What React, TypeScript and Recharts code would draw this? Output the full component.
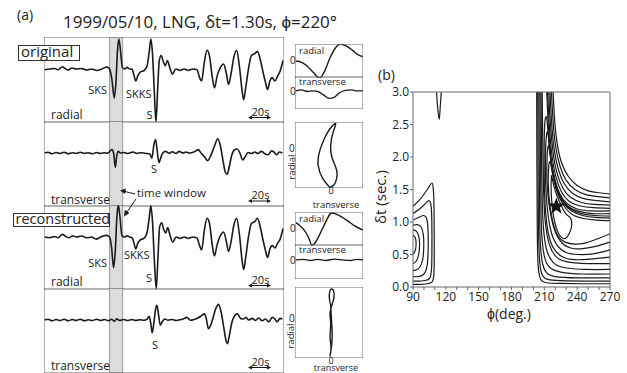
import React from 'react';
import { LineChart, Line, XAxis, YAxis, ReferenceArea, ReferenceDot } from 'recharts';

const FONT = "'Open Sans', sans-serif";
const INK = '#1a1a1a';
const FRAME = '#666';

// ---- seismograms: [time (s), amplitude] ----
const origRadial = [
  [0.7, 52], [5.7, 52.7], [10.7, 53.3], [14, 52], [18.3, 55], [20.7, 53.3], [24, 51.7], [27.3, 53.7],
  [32.3, 52.7], [37.3, 53.3], [42.3, 51.7], [47.3, 52.7], [52.3, 51.3], [57.3, 52.7], [62.3, 54.7],
  [65, 52.7], [67.3, 42.7], [69.7, 24.3], [71.3, 39.3], [73, 72.7], [74.3, 82], [76, 69.3], [77.7, 54.3],
  [80, 52.7], [82.3, 54.3], [85, 52.7], [87.3, 52.7], [89, 47.7], [91, 41], [93, 46], [95.7, 50], [99, 51],
  [102.3, 56], [104.3, 69.3], [106, 82], [107.7, 66], [109.3, 32.7], [111, 1], [112.7, 32.7], [114.3, 61],
  [116.3, 66], [118.3, 60], [120.3, 56], [122.3, 61], [124.7, 54.3], [127.3, 47.7], [130.7, 52.7],
  [135, 51.3], [139, 52.7], [143, 51.3], [147.3, 52.7], [151.7, 52], [154.3, 44.3], [156.3, 41],
  [159, 59.3], [161.7, 71], [164, 66], [166.7, 46], [169, 34.3], [171.7, 46], [175, 54.3], [178, 57.7],
  [181, 47.7], [183, 37.7], [185.7, 49.3], [188.3, 64.3], [191, 71], [193.7, 56], [196.3, 32.7],
  [198, 22.7], [200, 34.3], [203, 54.3], [205.7, 66], [209, 67.7], [211.7, 70], [214.3, 62.7],
  [217.3, 49.3], [219.7, 39.3], [221.7, 32.7], [224, 41], [226.3, 44.3], [229, 41], [231.7, 46],
  [234.3, 51], [237, 61],
];

const origTrans = [
  [0.5, 52.7], [4, 53.5], [8, 52], [12, 53.3], [16, 52.3], [20, 53.5], [24, 52], [28, 53], [32, 52.3],
  [36, 53.5], [40, 52.3], [44, 53], [48, 52], [52, 53.3], [56, 52.3], [60, 53], [63, 52.5], [67.3, 56],
  [69, 52.7], [70.7, 38.7], [72, 49.3], [73.7, 54.3], [75.7, 52.7], [79, 53.3], [83, 52.3], [88.3, 53.7],
  [92, 52.3], [96, 53], [100, 52.5], [105, 51.7], [107, 47.7], [109, 61], [110.7, 66], [112.3, 54.3],
  [114, 43.3], [115.7, 47.7], [117.7, 52.7], [120.7, 54.3], [124, 52.5], [127.3, 54], [131, 52.3],
  [134, 54.3], [138, 52.7], [140.7, 53.7], [144, 52.7], [149.7, 54.3], [153, 56], [155.7, 52.7],
  [159, 49.3], [162.3, 45.3], [165.7, 51], [169, 59.3], [172.3, 66.7], [175, 59.3], [177.7, 44.3],
  [179.7, 34.3], [181.7, 32], [183.7, 39.3], [186.3, 51], [189, 56], [191.7, 56.7], [194.3, 52.7],
  [197, 46], [199.7, 49.3], [202.3, 53.3], [206, 52.3], [209, 53.7], [212, 52.3], [215.7, 54.3],
  [219, 52], [222.3, 51], [225.7, 55], [228.3, 53.3], [230.7, 51], [233.3, 53.7], [236.3, 52.7],
];

const recRadial = [
  [0.7, 51.7], [5.7, 51], [10.7, 52.3], [14, 51], [18.3, 54.3], [21.7, 52.3], [25, 51], [28.3, 53],
  [32.3, 51.7], [37.3, 52.7], [42.3, 51], [47.3, 51.7], [51.7, 49.7], [56.3, 51.7], [61.7, 53.3],
  [65, 51.7], [67, 41.7], [69, 21.7], [70.7, 38.3], [72.3, 71.7], [73.7, 83], [75.3, 71.7], [77.3, 53.3],
  [80, 51.7], [82.3, 53], [85, 51.7], [87.3, 51], [89, 46.7], [91, 40], [93, 45.7], [95.7, 49], [99, 50.3],
  [102.3, 56.7], [104.3, 70], [106, 82.3], [107.7, 65], [109.3, 31.7], [111.3, 1], [113, 31.7],
  [114.7, 61.7], [116.7, 65.7], [118.7, 59], [120.7, 55.7], [122.7, 61], [125, 53.3], [127.7, 46.7],
  [131, 51.7], [135, 50.3], [139, 51.7], [143, 50.3], [147.3, 51.7], [151.7, 50.7], [154.3, 43.3],
  [156.3, 39], [159, 58.3], [161.7, 70], [164, 65.7], [166.7, 45], [169, 33.3], [171.7, 44.3],
  [175, 53.3], [178, 56.7], [181, 46.7], [183, 37.7], [185.7, 48.3], [188.3, 63.3], [191, 70],
  [193.7, 55], [196.3, 30], [198, 20], [200, 31.7], [203, 53.3], [205.7, 65], [209, 66.7], [211.7, 70],
  [214.3, 62.3], [217.3, 48.3], [219.7, 38.3], [221.7, 31.7], [224, 40], [226.3, 43.3], [229, 41],
  [231.7, 45.7], [234.3, 50], [237, 60],
];

const recTrans = [
  [0.5, 51.7], [4, 52.5], [8, 51], [12, 52.3], [16, 51.2], [20, 52.5], [24, 51], [28, 52.3], [32, 51.3],
  [36, 52.5], [40, 51], [44, 52], [48, 51.2], [52, 52.5], [56, 51.3], [60, 52.3], [64, 51], [67, 52.5],
  [70, 50.5], [72, 53], [75, 51.3], [79, 52.3], [83, 51.2], [87, 52.3], [91, 51.3], [95, 52], [99, 51.5],
  [102.3, 52.7], [104.3, 55.3], [106, 47.7], [107.3, 39.3], [109, 49.3], [110.7, 62.7], [112, 66],
  [113.7, 56], [115.3, 46.7], [117.3, 50], [119.7, 52.7], [123, 51.5], [127, 52.3], [131, 51.3],
  [135, 52], [139, 53.3], [141.7, 54.3], [145, 51.5], [149, 52.3], [153, 54], [156.3, 56], [159, 57.7],
  [161, 52.7], [163, 43.3], [165, 46], [167.7, 54.3], [170.3, 62.7], [173, 67], [175.7, 59.3],
  [178.3, 44.3], [180.3, 32.7], [182, 28.7], [184, 37.7], [186.3, 49.3], [189, 56], [191.7, 57.7],
  [195, 53.3], [197.7, 52.7], [200.3, 54.3], [203, 51.7], [206.3, 53.3], [209.7, 51.3], [213, 53.7],
  [216.3, 51], [219.7, 52.7], [223, 50], [226.3, 54.3], [229, 52.7], [231.3, 50], [234, 53.3],
  [236.3, 52.7],
];

const timeWindow = [65, 78];
const traceTicks = [0, 11, 22, 33, 44, 55, 66, 77, 88, 99, 110, 121, 132, 143, 154, 165, 176, 187, 198, 209, 220, 231];

// ---- windowed waveforms (small boxes) ----
const winRadialOrig = [[1, 0], [6, -1], [12, -5], [18, -11], [24, -16], [29, -9], [34, 3], [39, 12], [44, 16], [50, 14], [56, 10], [61, 6], [66, 4]];
const winTransOrig = [[1, 0], [6, 1], [12, -0.5], [18, 0], [23, -1], [28, -4], [33, -7], [38, -6], [43, -2], [49, 0.5], [55, 1], [60, 0], [66, 0]];
const winRadialRec = [[1, 5], [6, 1], [11, -5], [14, -11], [16, -16], [18, -15.5], [22, -10], [26, -2], [30, 6], [34, 13], [36, 14], [40, 13], [46, 10], [52, 6], [58, 2], [66, -2]];
const winTransRec = [[1, 0], [8, 0.5], [15, -0.5], [22, 0.5], [30, -0.5], [38, 0.7], [46, 0], [54, -0.5], [60, 0.5], [66, 0]];

// ---- particle motion: [transverse, radial] ----
const hodoOrig = [
  [-1, -38.7], [-8, -30], [-12.5, -17], [-11, -3], [-6, 10], [-1, 18.5], [4.5, 23.7], [2, 15],
  [-0.3, 3], [0.7, -8.7], [4.5, -18.7], [5.8, -27], [3.5, -35], [-1, -38.7],
];
const hodoRec = [
  [-1, 14.7], [-1.7, 23], [0.7, 28], [3, 23], [1.7, 15.3], [-1, 4.7], [-0.3, -5.3], [-1, -18.7], [0, -28.7],
  [-1, -37], [0.7, -25.3], [1, -12], [0.3, -0.3], [-0.3, 11.3], [-1, 14.7],
];

// ---- grid search (b): contour lines [phi (deg), dt (s)] ----
const phiTicks = [90, 100, 110, 120, 130, 140, 150, 160, 170, 180, 190, 200, 210, 220, 230, 240, 250, 260, 270];
const dtTicks = [0, 0.5, 1, 1.5, 2, 2.5, 3];
const best = { phi: 221, dt: 1.24 };

const leftC1 = [[90, 1.24], [96, 1.34], [101, 1.45], [105, 1.55], [107.3, 1.6], [108.6, 1.5], [109.2, 1.2], [109.4, 0.8], [109.4, 0.4], [109, 0.18], [107.5, 0.08], [103, 0.05], [96, 0.04], [90, 0.04]];
const leftC2 = [[90, 1.13], [96, 1.2], [101, 1.28], [104.5, 1.33], [106.5, 1.25], [107.2, 1], [107.3, 0.6], [107, 0.3], [105.5, 0.14], [101, 0.1], [95, 0.09], [90, 0.09]];
const leftC3 = [[90, 1.03], [95, 1.07], [99.5, 1.1], [102.5, 1.05], [103.8, 0.85], [103.8, 0.55], [102.8, 0.32], [100, 0.2], [95, 0.16], [90, 0.16]];
const leftC4 = [[90, 0.95], [94, 0.96], [97.5, 0.92], [99.5, 0.8], [99.8, 0.6], [98.8, 0.42], [96, 0.3], [92.5, 0.26], [90, 0.25]];
const leftC5 = [[90, 0.88], [93, 0.86], [95.3, 0.78], [96, 0.65], [95.2, 0.5], [93, 0.4], [90, 0.36]];
const leftC6 = [[90, 0.8], [92, 0.76], [92.8, 0.68], [92.3, 0.58], [90.8, 0.52], [90, 0.5]];
const spikeC = [[111.5, 3], [112.6, 2.75], [113.9, 2.58], [114.8, 2.75], [115.8, 3]];

const rightLow0 = [[203, 3], [203.2, 2], [203.5, 1], [204, 0.45], [205, 0.22], [207, 0.11], [212, 0.065], [225, 0.055], [245, 0.05], [270, 0.05]];
const rightUp0 = [[218, 3], [219.5, 2.55], [222, 2.18], [226, 1.9], [232, 1.7], [240, 1.56], [250, 1.48], [260, 1.45], [270, 1.43]];
const rightLow1 = [[204, 3], [204.2, 2], [204.6, 1], [205.3, 0.52], [206.5, 0.28], [209, 0.16], [215, 0.11], [230, 0.095], [250, 0.09], [270, 0.09]];
const rightUp1 = [[216.5, 3], [218, 2.55], [220.5, 2.15], [224.5, 1.85], [230, 1.64], [238, 1.5], [248, 1.42], [259, 1.39], [270, 1.37]];
const rightLow2 = [[205, 3], [205.3, 2], [205.8, 1], [206.7, 0.58], [208.5, 0.35], [212, 0.22], [220, 0.16], [240, 0.14], [270, 0.14]];
const rightUp2 = [[215.2, 3], [216.6, 2.55], [219, 2.12], [223, 1.8], [228.5, 1.58], [236, 1.44], [246, 1.36], [258, 1.33], [270, 1.31]];
const rightLow3 = [[206, 3], [206.4, 2], [207, 1.1], [208.2, 0.68], [210.5, 0.44], [215, 0.3], [225, 0.23], [245, 0.2], [270, 0.2]];
const rightUp3 = [[214, 3], [215.4, 2.55], [217.8, 2.1], [221.5, 1.76], [227, 1.52], [234, 1.38], [244, 1.3], [256, 1.27], [270, 1.26]];
const rightLow4 = [[207, 3], [207.5, 2], [208.3, 1.2], [209.8, 0.8], [212.5, 0.55], [218, 0.38], [228, 0.3], [248, 0.27], [270, 0.27]];
const rightUp4 = [[213, 3], [214.3, 2.55], [216.6, 2.08], [220.2, 1.72], [225.5, 1.47], [232.5, 1.32], [242, 1.25], [255, 1.22], [270, 1.21]];
const rightLow5 = [[208, 3], [208.6, 2.2], [209.5, 1.4], [211.2, 0.95], [214.5, 0.66], [220, 0.48], [230, 0.39], [250, 0.36], [270, 0.36]];
const rightUp5 = [[212.2, 3], [213.3, 2.6], [215.5, 2.08], [219, 1.69], [224, 1.43], [231, 1.28], [240, 1.2], [253, 1.17], [270, 1.17]];
const rightC6 = [[270, 0.46], [252, 0.43], [238, 0.42], [226, 0.47], [218, 0.61], [213.5, 0.84], [211, 1.2], [210, 1.6], [209.8, 2], [210, 2.35], [210.6, 2.56], [211.5, 2.62], [212.5, 2.55], [214, 2.25], [216.5, 1.9], [220, 1.62], [225, 1.4], [231, 1.25], [240, 1.17], [254, 1.13], [270, 1.13]];
const rightC7 = [[270, 0.57], [255, 0.51], [241, 0.5], [230, 0.53], [221, 0.66], [215.5, 0.9], [212.5, 1.25], [211.2, 1.6], [211, 1.95], [211.4, 2.22], [212.2, 2.36], [213, 2.38], [214, 2.3], [215.5, 2.05], [218, 1.75], [222, 1.5], [227, 1.32], [234, 1.2], [244, 1.13], [257, 1.1], [270, 1.09]];
const rightC8 = [[270, 0.69], [258, 0.63], [245, 0.59], [234, 0.6], [225, 0.7], [218.5, 0.92], [214.5, 1.25], [212.6, 1.55], [212.3, 1.85], [212.8, 2.08], [213.6, 2.17], [214.6, 2.12], [216.2, 1.92], [219, 1.65], [223, 1.43], [228, 1.28], [235, 1.17], [245, 1.1], [257, 1.07], [270, 1.06]];
const rightC9 = [[270, 0.82], [260, 0.75], [248, 0.68], [238, 0.66], [229, 0.69], [222, 0.8], [217.5, 1.02], [214.8, 1.3], [213.6, 1.58], [213.8, 1.8], [214.6, 1.92], [215.8, 1.9], [217.5, 1.74], [220.5, 1.52], [224.5, 1.35], [230, 1.2], [237, 1.1], [247, 1.05], [258, 1.03], [270, 1.02]];
const rightC10 = [[216.5, 1.72], [216.2, 1.5], [217.3, 1.22], [219.5, 1], [222.5, 0.84], [226, 0.76], [229.5, 0.75], [233, 0.83], [235, 0.95], [234, 1.06], [230, 1.12], [225, 1.27], [220.5, 1.45], [217.8, 1.62], [216.5, 1.72]];

const contours = [
  leftC1, leftC2, leftC3, leftC4, leftC5, leftC6, spikeC,
  rightLow0, rightUp0, rightLow1, rightUp1, rightLow2, rightUp2, rightLow3, rightUp3,
  rightLow4, rightUp4, rightLow5, rightUp5, rightC6, rightC7, rightC8, rightC9, rightC10,
];

const toXY = (arr: number[][]) => arr.map(([x, y]) => ({ x, y }));

type PanelProps = {
  left: number; top: number; width: number; height: number;
  xDomain: number[]; yDomain: number[]; xTicks: number[]; yTicks: number[];
  children?: React.ReactNode;
};

// boxed panel with inward tick marks on all four sides (each frame axis is 1px thick)
function Panel({ left, top, width, height, xDomain, yDomain, xTicks, yTicks, children }: PanelProps) {
  const ax = { stroke: FRAME, tick: false as const, tickSize: 3, mirror: true, allowDataOverflow: true, type: 'number' as const };
  return (
    <div style={{ position: 'absolute', left: left - 1, top: top - 1 }}>
      <LineChart width={width + 2} height={height + 2} margin={{ top: 0, right: 0, bottom: 0, left: 0 }}>
        <XAxis {...ax} dataKey="x" domain={xDomain} ticks={xTicks} height={1} />
        <XAxis {...ax} xAxisId="top" orientation="top" dataKey="x" domain={xDomain} ticks={xTicks} height={1} />
        <YAxis {...ax} domain={yDomain} ticks={yTicks} width={1} />
        <YAxis {...ax} yAxisId="r" orientation="right" domain={yDomain} ticks={yTicks} width={1} />
        {children}
      </LineChart>
    </div>
  );
}

function Trace({ data, top, height }: { data: number[][]; top: number; height: number }) {
  return (
    <Panel left={45} top={top} width={238} height={height} xDomain={[0, 238]} yDomain={[0, height]}
      xTicks={traceTicks} yTicks={[height * 0.25, height * 0.5, height * 0.75]}>
      <ReferenceArea x1={timeWindow[0]} x2={timeWindow[1]} fill="#dcdcdc" fillOpacity={1} stroke="#9a9a9a" />
      <Line data={toXY(data)} dataKey="y" type="monotone" stroke={INK} strokeWidth={1.6} dot={false} isAnimationActive={false} />
    </Panel>
  );
}

function SmallWave({ data, top, height, yDomain }: { data: number[][]; top: number; height: number; yDomain: number[] }) {
  return (
    <Panel left={296} top={top} width={66} height={height} xDomain={[0, 66]} yDomain={yDomain}
      xTicks={[6, 12, 18, 24, 30, 36, 42, 48, 54, 60]} yTicks={[]}>
      <Line data={toXY(data)} dataKey="y" type="monotone" stroke={INK} strokeWidth={1.4} dot={false} isAnimationActive={false} />
    </Panel>
  );
}

function Hodo({ data, top, height, xDomain, yDomain }: { data: number[][]; top: number; height: number; xDomain: number[]; yDomain: number[] }) {
  return (
    <Panel left={296} top={top} width={66} height={height} xDomain={xDomain} yDomain={yDomain}
      xTicks={[-30, -24, -18, -12, -6, 0, 6, 12, 18, 24, 30]} yTicks={[-36, -24, -12, 0, 12, 24]}>
      <Line data={toXY(data)} dataKey="y" type="natural" stroke={INK} strokeWidth={1.4} dot={false} isAnimationActive={false} />
    </Panel>
  );
}

const Star = (props: any) => {
  const { cx, cy } = props;
  const pts: string[] = [];
  for (let i = 0; i < 10; i++) {
    const r = i % 2 === 0 ? 9 : 3.6;
    const a = (Math.PI / 5) * i - Math.PI / 2;
    pts.push(`${cx + r * Math.cos(a)},${cy + r * Math.sin(a)}`);
  }
  return <polygon points={pts.join(' ')} fill="#111" />;
};

function ContourPlot() {
  const tickStyle = { fontSize: 12, fill: '#222', fontFamily: FONT };
  return (
    <div style={{ position: 'absolute', left: 368, top: 80 }}>
      <LineChart width={252} height={240} margin={{ top: 12, right: 10, bottom: 0, left: 0 }}>
        <XAxis type="number" dataKey="x" domain={[90, 270]} ticks={phiTicks} interval={0} allowDataOverflow
          tickFormatter={(v: number) => (v % 30 === 0 ? String(v) : '')} tickSize={3} height={33}
          stroke={FRAME} tick={tickStyle} />
        <XAxis xAxisId="top" orientation="top" type="number" dataKey="x" domain={[90, 270]} ticks={phiTicks}
          allowDataOverflow tick={false} tickSize={3} mirror height={1} stroke={FRAME} />
        <YAxis type="number" domain={[0, 3]} ticks={dtTicks} interval={0} allowDataOverflow
          tickFormatter={(v: number) => v.toFixed(1)} tickSize={3} tickMargin={1} width={45}
          stroke={FRAME} tick={tickStyle} />
        <YAxis yAxisId="r" orientation="right" type="number" domain={[0, 3]} ticks={dtTicks}
          allowDataOverflow tick={false} tickSize={3} mirror width={1} stroke={FRAME} />
        {contours.map((c, i) => (
          <Line key={i} data={toXY(c)} dataKey="y" type="natural" stroke={INK} strokeWidth={1.2}
            dot={false} isAnimationActive={false} />
        ))}
        <ReferenceDot x={best.phi} y={best.dt} r={9} shape={Star} />
      </LineChart>
    </div>
  );
}

function ScaleBar({ x1, x2, y }: { x1: number; x2: number; y: number }) {
  return (
    <g>
      <text x={(x1 + x2) / 2 + 1} y={y - 2} fontSize={11} textAnchor="middle">20s</text>
      <line x1={x1 + 2} x2={x2 - 2} y1={y} y2={y} stroke={INK} strokeWidth={1} />
      <polygon points={`${x1},${y} ${x1 + 4},${y - 2} ${x1 + 4},${y + 2}`} fill={INK} />
      <polygon points={`${x2},${y} ${x2 - 4},${y - 2} ${x2 - 4},${y + 2}`} fill={INK} />
    </g>
  );
}

function Overlay() {
  return (
    <svg width={627} height={373} style={{ position: 'absolute', left: 0, top: 0, pointerEvents: 'none' }}
      fontFamily={FONT} fill="#222">
      <text x={17} y={20} fontSize={14}>(a)</text>
      <text x={63} y={28} fontSize={17}>1999/05/10, LNG, δt=1.30s, ϕ=220°</text>

      <rect x={18.5} y={45.5} width={61} height={15} fill="#fff" stroke="#333" />
      <text x={21} y={56.5} fontSize={15}>original</text>
      <rect x={13.5} y={213.5} width={96} height={13} fill="#fff" stroke="#333" />
      <text x={15.5} y={223.5} fontSize={14.5}>reconstructed</text>

      {/* panel 1 */}
      <text x={107} y={94} fontSize={11} textAnchor="end">SKS</text>
      <text x={126} y={97.5} fontSize={11}>SKKS</text>
      <text x={146.5} y={119} fontSize={11}>S</text>
      <text x={51} y={118.5} fontSize={12}>radial</text>
      <ScaleBar x1={248} x2={271} y={117.5} />

      {/* panel 2 */}
      <text x={151} y={173} fontSize={11}>S</text>
      <text x={51} y={204} fontSize={12}>transverse</text>
      <text x={137} y={197} fontSize={11.5}>time window</text>
      <ScaleBar x1={248} x2={271} y={201} />
      <line x1={135} y1={194} x2={125} y2={191.5} stroke={INK} strokeWidth={1} />
      <polygon points="120,190.5 126,188.5 125,194" fill={INK} />
      <line x1={136} y1={199} x2={127} y2={212} stroke={INK} strokeWidth={1} />
      <polygon points="124,216.5 124.8,209.8 129.5,213" fill={INK} />

      {/* panel 3 */}
      <text x={107} y={267} fontSize={11} textAnchor="end">SKS</text>
      <text x={124} y={259} fontSize={11}>SKKS</text>
      <text x={146} y={282} fontSize={11}>S</text>
      <text x={51} y={286} fontSize={12}>radial</text>
      <ScaleBar x1={248} x2={271} y={285.5} />

      {/* panel 4 */}
      <text x={152} y={349} fontSize={11}>S</text>
      <text x={51} y={370} fontSize={12}>transverse</text>
      <ScaleBar x1={248} x2={271} y={367.5} />

      {/* small boxes, original */}
      <text x={299} y={53.5} fontSize={9.5}>radial</text>
      <text x={290} y={64} fontSize={10}>0</text>
      <text x={299} y={85} fontSize={9.5}>transverse</text>
      <text x={290} y={95} fontSize={10}>0</text>
      <text x={289} y={152} fontSize={10}>0</text>
      <text x={295} y={167} fontSize={9.5} textAnchor="middle" transform="rotate(-90 295 167)">radial</text>
      <text x={331} y={194} fontSize={9} textAnchor="middle">0</text>
      <text x={336} y={207.5} fontSize={9.5} textAnchor="middle">transverse</text>

      {/* small boxes, reconstructed */}
      <text x={299} y={222} fontSize={9.5}>radial</text>
      <text x={290} y={232} fontSize={10}>0</text>
      <text x={299} y={253} fontSize={9.5}>transverse</text>
      <text x={290} y={264} fontSize={10}>0</text>
      <text x={289} y={322} fontSize={10}>0</text>
      <text x={294} y={336} fontSize={9.5} textAnchor="middle" transform="rotate(-90 294 336)">radial</text>
      <text x={331} y={363.5} fontSize={9} textAnchor="middle">0</text>
      <text x={336} y={370.5} fontSize={9} textAnchor="middle">transverse</text>

      {/* (b) */}
      <text x={378} y={80} fontSize={14}>(b)</text>
      <text x={386} y={197} fontSize={15} textAnchor="middle" transform="rotate(-90 386 197)">δt (sec.)</text>
      <text x={509} y={319} fontSize={14} textAnchor="middle">ϕ(deg.)</text>
    </svg>
  );
}

export default function App() {
  return (
    <div style={{ position: 'absolute', left: 0, top: 0, width: 627, height: 373, background: '#fff', fontFamily: FONT }}>
      <Trace data={origRadial} top={38} height={84} />
      <Trace data={origTrans} top={122} height={84} />
      <Trace data={recRadial} top={206} height={83} />
      <Trace data={recTrans} top={289} height={83} />

      <SmallWave data={winRadialOrig} top={45} height={32} yDomain={[-16, 16]} />
      <SmallWave data={winTransOrig} top={77} height={31} yDomain={[-17, 14]} />
      <Hodo data={hodoOrig} top={123} height={64} xDomain={[-35, 31]} yDomain={[-39, 25]} />

      <SmallWave data={winRadialRec} top={213} height={32} yDomain={[-17, 15]} />
      <SmallWave data={winTransRec} top={245} height={33} yDomain={[-18, 15]} />
      <Hodo data={hodoRec} top={288} height={69} xDomain={[-35, 31]} yDomain={[-39, 30]} />

      <ContourPlot />
      <Overlay />
    </div>
  );
}
